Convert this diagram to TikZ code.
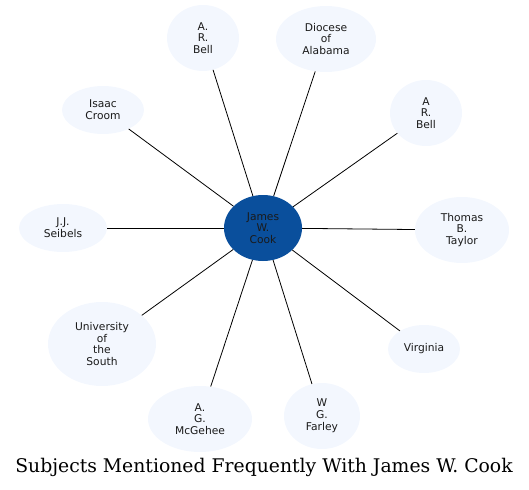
\documentclass[tikz,border=0pt]{standalone}
\usepackage{fontspec}
\setmainfont{DejaVu Sans}
\newfontfamily\titlefont{DejaVu Serif}
\usetikzlibrary{shapes.geometric}
\definecolor{outerfill}{HTML}{F3F7FE}
\definecolor{centerfill}{HTML}{0A4F9C}
\definecolor{txt}{HTML}{1A1A1A}
\tikzset{
  x=1pt,y=-1pt,
  bub/.style={ellipse,fill=outerfill,inner sep=0pt,align=center,font=\fontsize{10.7}{11.8}\selectfont,text=txt},
  hub/.style={ellipse,fill=centerfill,inner sep=0pt,align=center,font=\fontsize{10.7}{11.8}\selectfont,text=txt},
  link/.style={draw=black,line width=0.8pt}
}
\begin{document}
\begin{tikzpicture}
\useasboundingbox (0,0) rectangle (529,489);
\node[hub,minimum width=78,minimum height=66] (c) at (263,228) {James\\W.\\Cook};
\node[bub,minimum width=72,minimum height=66] (arb1) at (203,38) {A.\\R.\\Bell};
\node[bub,minimum width=100,minimum height=66] (dio) at (326,39) {Diocese\\of\\Alabama};
\node[bub,minimum width=72,minimum height=66] (arb2) at (426,113) {A\\R.\\Bell};
\node[bub,minimum width=82,minimum height=48] (isc) at (103,110) {Isaac\\Croom};
\node[bub,minimum width=94,minimum height=66] (tbt) at (462,230) {Thomas\\B.\\Taylor};
\node[bub,minimum width=88,minimum height=48] (jjs) at (63,228) {J.J.\\Seibels};
\node[bub,minimum width=108,minimum height=84] (uos) at (102,344) {University\\of\\the\\South};
\node[bub,minimum width=72,minimum height=48] (vir) at (424,349) {Virginia};
\node[bub,minimum width=104,minimum height=66] (agm) at (200,419) {A.\\G.\\McGehee};
\node[bub,minimum width=76,minimum height=66] (wgf) at (322,416) {W\\G.\\Farley};
\foreach \n in {arb1,dio,arb2,isc,tbt,jjs,uos,vir,agm,wgf}{
  \draw[link] (c) -- (\n);
}
\node[font=\titlefont\fontsize{18.8}{20}\selectfont] (title) at (264,467) {Subjects Mentioned Frequently With James W. Cook};
\end{tikzpicture}
\end{document}
